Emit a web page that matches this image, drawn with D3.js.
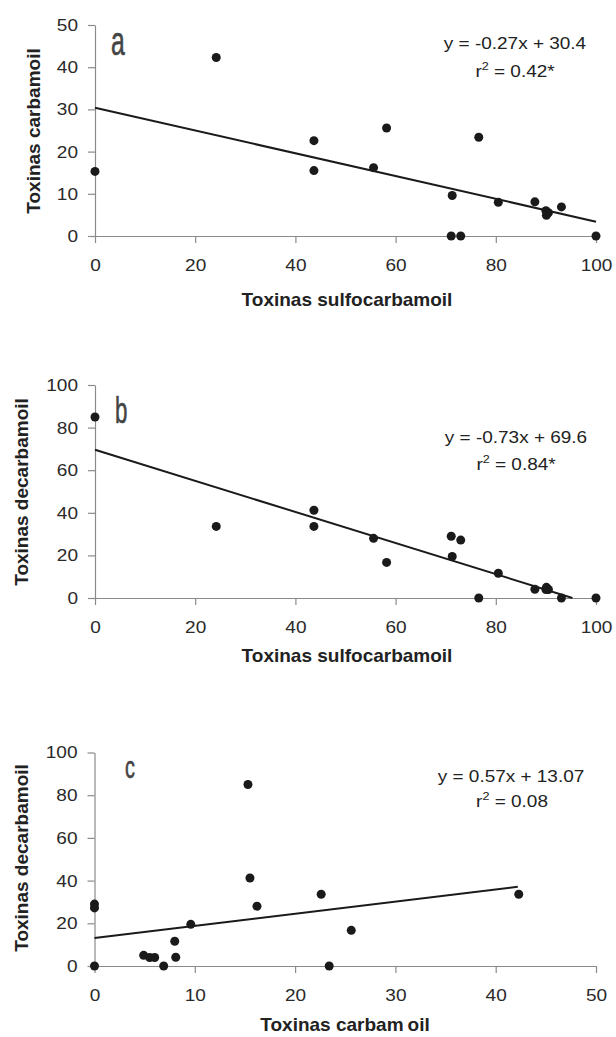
<!DOCTYPE html>
<html>
<head>
<meta charset="utf-8">
<script src="https://cdn.jsdelivr.net/npm/d3@7/dist/d3.min.js"></script>
<style>
  html, body { margin: 0; padding: 0; background: #fff; }
  svg { display: block; }
  text { font-family: "Liberation Sans", Arial, sans-serif; }
</style>
</head>
<body>
<svg id="chart" width="616" height="1037"></svg>
<script>
// ---- data: 17 samples, toxin profile percentages ----
const sulfocarbamoil = [0, 24.2, 43.7, 43.7, 55.6, 58.2, 71.1, 73.0, 71.3, 76.6, 80.5, 87.8, 90.1, 90.5, 90.0, 93.1, 100];
const carbamoil      = [15.3, 42.3, 22.6, 15.5, 16.2, 25.6, 0, 0, 9.6, 23.4, 8.0, 8.1, 4.9, 5.5, 6.0, 6.9, 0];
const decarbamoil    = [85.0, 33.6, 33.6, 41.2, 28.0, 16.7, 29.0, 27.2, 19.5, 0, 11.6, 4.1, 5.0, 4.0, 4.0, 0, 0];

// ---- regression fits shown on the chart ----
const fitA = { slope: -0.27, intercept: 30.4, xFrom: 0, xTo: 100 };
const fitB = { slope: -0.73, intercept: 69.6, xFrom: 0, xTo: 95.3 };
const fitC = { slope: 0.57, intercept: 13.07, xFrom: 0, xTo: 42.2 };

// ---- tick labels ----
const ticksX100 = [0, 20, 40, 60, 80, 100];
const ticksX50  = [0, 10, 20, 30, 40, 50];
const ticksY50  = [0, 10, 20, 30, 40, 50];
const ticksY100 = [0, 20, 40, 60, 80, 100];

// ---- texts ----
const panelLetters = ["a", "b", "c"];
const eqTexts = ["y = -0.27x + 30.4", "y = -0.73x + 69.6", "y = 0.57x + 13.07"];
const r2Texts = [" = 0.42*", " = 0.84*", " = 0.08"];
const xTitles = ["Toxinas sulfocarbamoil", "Toxinas sulfocarbamoil", "Toxinas carbamoil"];
const yTitles = ["Toxinas carbamoil", "Toxinas decarbamoil", "Toxinas decarbamoil"];

const svg = d3.select("#chart");
const AXIS = "#8a8a8a";
const INK = "#1a1a1a";
const SX = 1.12; // horizontal stretch of regular text

const panels = [
  { xs: sulfocarbamoil, ys: carbamoil, xDom: [0, 100], yDom: [0, 50], xTicks: ticksX100, yTicks: ticksY50,
    xR: [95, 596], yR: [236, 25], fit: fitA, letter: [111, 55], eq: [515, 49], r2: [515, 77],
    xt: [347, 306], yt: [40, 131], letterSize: 40 },
  { xs: sulfocarbamoil, ys: decarbamoil, xDom: [0, 100], yDom: [0, 100], xTicks: ticksX100, yTicks: ticksY100,
    xR: [95, 596], yR: [598, 385], fit: fitB, letter: [115, 423], eq: [516, 443], r2: [516, 470],
    xt: [347, 662], yt: [28, 492], letterSize: 36 },
  { xs: carbamoil, ys: decarbamoil, xDom: [0, 50], yDom: [0, 100], xTicks: ticksX50, yTicks: ticksY100,
    xR: [94.5, 596], yR: [966, 752.5], fit: fitC, letter: [125, 778], eq: [511, 782], r2: [512, 807],
    xt: [345, 1031], yt: [28, 858], letterSize: 32 }
];

panels.forEach((p, i) => {
  const x = d3.scaleLinear().domain(p.xDom).range(p.xR);
  const y = d3.scaleLinear().domain(p.yDom).range(p.yR);
  const g = svg.append("g");

  // x axis
  const gx = g.append("g").attr("transform", `translate(0,${p.yR[0]})`)
    .call(d3.axisBottom(x).tickValues(p.xTicks).tickSize(7).tickPadding(16).tickSizeOuter(0));
  // y axis
  const gy = g.append("g").attr("transform", `translate(${p.xR[0]},0)`)
    .call(d3.axisLeft(y).tickValues(p.yTicks).tickSize(7).tickPadding(8.2).tickSizeOuter(0));

  [gx, gy].forEach(ax => {
    ax.select(".domain").attr("stroke", AXIS).attr("stroke-width", 1.2);
    ax.selectAll(".tick line").attr("stroke", AXIS).attr("stroke-width", 1.2);
    ax.selectAll(".tick text")
      .attr("fill", "#2a2a2a")
      .style("font-size", "17px")
      .style("font-family", "'Liberation Sans', Arial, sans-serif")
      .attr("transform", `scale(${SX},1)`);
  });

  // regression line
  g.append("line")
    .attr("x1", x(p.fit.xFrom)).attr("y1", y(p.fit.slope * p.fit.xFrom + p.fit.intercept))
    .attr("x2", x(p.fit.xTo)).attr("y2", y(p.fit.slope * p.fit.xTo + p.fit.intercept))
    .attr("stroke", INK).attr("stroke-width", 2);

  // points
  const pts = p.xs.map((v, k) => [v, p.ys[k]]);
  g.selectAll("circle.pt").data(pts).enter().append("circle")
    .attr("class", "pt")
    .attr("cx", d => x(d[0])).attr("cy", d => y(d[1]))
    .attr("r", 4.5).attr("fill", INK);

  // panel letter
  g.append("text")
    .attr("transform", `translate(${p.letter[0]},${p.letter[1]}) scale(0.62,1)`)
    .style("font-size", p.letterSize + "px")
    .attr("fill", "#444")
    .attr("stroke", "#444").attr("stroke-width", 0.6)
    .text(panelLetters[i]);

  // equation
  g.append("text")
    .attr("transform", `translate(${p.eq[0]},${p.eq[1]}) scale(1.15,1)`)
    .attr("text-anchor", "middle")
    .style("font-size", "16.5px")
    .attr("fill", "#222")
    .text(eqTexts[i]);

  const r2 = g.append("text")
    .attr("transform", `translate(${p.r2[0]},${p.r2[1]}) scale(1.15,1)`)
    .attr("text-anchor", "middle")
    .style("font-size", "16.5px")
    .attr("fill", "#222");
  r2.append("tspan").text("r");
  r2.append("tspan").attr("dy", -7).style("font-size", "11px").text("2");
  r2.append("tspan").attr("dy", 7).text(r2Texts[i]);

  // x title
  const xt = g.append("text")
    .attr("x", p.xt[0]).attr("y", p.xt[1])
    .attr("text-anchor", "middle")
    .style("font-size", "19px").style("font-weight", "bold")
    .attr("fill", "#222");
  if (i === 2) {
    xt.append("tspan").text("Toxinas carbam");
    xt.append("tspan").attr("dx", 4).text("oil");
  } else {
    xt.text(xTitles[i]);
  }

  // y title
  g.append("text")
    .attr("transform", `translate(${p.yt[0]},${p.yt[1]}) rotate(-90)`)
    .attr("text-anchor", "middle")
    .style("font-size", "19px").style("font-weight", "bold")
    .attr("fill", "#222")
    .text(yTitles[i]);
});
</script>
</body>
</html>
